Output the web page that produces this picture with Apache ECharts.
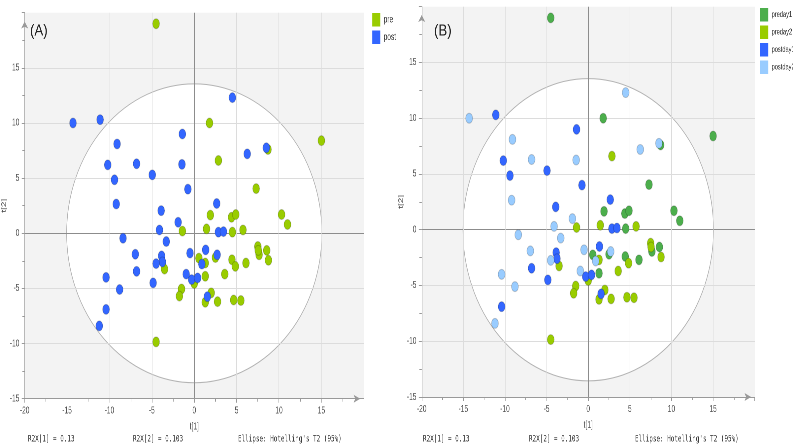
<!DOCTYPE html>
<html>
<head>
<meta charset="utf-8">
<script src="https://cdn.jsdelivr.net/npm/echarts@6/dist/echarts.min.js"></script>
<style>
html,body{margin:0;padding:0;background:#fff;overflow:hidden;width:793px;height:446px;}
#c{height:446px;transform-origin:0 0;}
</style>
</head>
<body>
<div id="c"></div>
<script>
// ---- data (t[1], t[2]) ----
const preday1 = [
  [-4.5, 19.0], [1.8, 10.0], [15.0, 8.4], [8.7, 7.6], [7.3, 4.05], [1.9, 1.65],
  [4.4, 1.45], [4.9, 1.7], [10.3, 1.7], [11.0, 0.8], [4.5, 0.1], [0.55, -2.25],
  [2.5, -2.2], [4.45, -2.4], [6.1, -2.7], [7.65, -1.95], [8.55, -1.55], [1.3, -3.9]
];
const preday2 = [
  [2.85, 6.6], [-1.4, 0.2], [1.45, 0.4], [5.75, 0.3], [7.5, -1.2], [7.55, -1.55],
  [8.75, -2.45], [1.3, -2.7], [4.85, -3.0], [3.6, -3.7], [-3.5, -3.25], [0.0, -4.55],
  [-1.5, -5.05], [-1.75, -5.7], [2.0, -5.4], [1.3, -6.25], [2.75, -6.2], [4.65, -6.05],
  [5.5, -6.1], [-4.5, -9.85]
];
const postday1 = [
  [-11.1, 10.3], [-1.4, 9.0], [-10.2, 6.2], [-4.95, 5.3], [-9.4, 4.85], [-0.75, 4.0],
  [2.65, 2.7], [-3.9, 2.05], [2.85, 0.1], [3.45, 0.15], [1.35, -1.5], [-3.85, -2.05],
  [-3.75, -2.6], [-6.8, -3.45], [-0.3, -4.2], [0.4, -4.05], [-4.85, -4.5], [1.55, -5.75],
  [-10.4, -6.9]
];
const postday2 = [
  [4.5, 12.3], [-14.3, 10.0], [-9.1, 8.1], [8.5, 7.75], [6.25, 7.2], [-6.8, 6.3],
  [-1.45, 6.25], [-9.2, 2.65], [-1.9, 1.0], [-8.4, -0.45], [-4.1, 0.3], [-3.3, -0.75],
  [-6.95, -1.9], [-0.5, -1.8], [2.7, -1.95], [0.9, -2.8], [-4.5, -2.75], [-0.95, -3.7],
  [-10.4, -4.0], [-8.8, -5.1], [-11.2, -8.4]
];
const pre = preday1.concat(preday2);
const post = postday1.concat(postday2);
const ellipseRadii = [15.05, 13.55];   // Hotelling's T2 (95%) ellipse half-axes
const xRange = [-20, 20];
const yRange = [-15, 20];
const tickStep = 5;
const panelLabels = ['(A)', '(B)'];
const footerTexts = ['R2X[1] = 0.13', 'R2X[2] = 0.103', "Ellipse: Hotelling's T2 (95%)"];
const legendA = ['pre', 'post'];
const legendB = ['preday1', 'preday2', 'postday1', 'postday2'];

// The original picture is horizontally squeezed; draw wide, then squeeze with CSS.
const SX = 0.66;
const W = 793 / SX;
const el = document.getElementById('c');
el.style.width = W + 'px';
el.style.transform = 'scaleX(' + SX + ')';
const L = function (x) { return x / SX; };

const COL = {pre: '#99cc00', post: '#3366ff', preday1: '#4cae4c', preday2: '#99cc00', postday1: '#3366ff', postday2: '#99ccff'};
const SANS = "'Liberation Sans', Arial, sans-serif";
const GRIDC = '#dcdcdc';

function lineColors(range) {
  const n = (range[1] - range[0]) / tickStep + 1, cols = [];
  for (let k = 0; k < n; k++) {
    const v = range[0] + k * tickStep;
    cols.push(v === 0 ? '#8c8c8c' : (v === range[0] || v === range[1]) ? 'rgba(0,0,0,0)' : GRIDC);
  }
  return cols;
}
function xAxisOf(i, arrowOff) {
  return {
    type: 'value', gridIndex: i, min: xRange[0], max: xRange[1], interval: tickStep, z: 1.5,
    name: 't[1]', nameLocation: 'middle', nameGap: 23,
    nameTextStyle: {fontSize: 10, color: '#555', fontFamily: SANS},
    axisLine: {onZero: false, show: true, symbol: ['none', 'arrow'], symbolSize: [6, 10], symbolOffset: [0, arrowOff], lineStyle: {color: '#999'}},
    axisTick: {show: true, length: 4, lineStyle: {color: '#999'}},
    minorTick: {show: true, splitNumber: 2, length: 3, lineStyle: {color: '#999'}},
    axisLabel: {showMaxLabel: false, fontSize: 10, color: '#555', fontFamily: SANS, margin: 7},
    splitLine: {show: true, lineStyle: {color: lineColors(xRange), width: 1}}
  };
}
function yAxisOf(i, arrowOff) {
  return {
    type: 'value', gridIndex: i, min: yRange[0], max: yRange[1], interval: tickStep, z: 1.5,
    name: 't[2]', nameLocation: 'middle', nameGap: 17, nameRotate: 90,
    nameTextStyle: {fontSize: 10, color: '#555', fontFamily: SANS},
    axisLine: {onZero: false, show: true, symbol: ['none', 'arrow'], symbolSize: [8, 7], symbolOffset: [0, arrowOff], lineStyle: {color: '#999'}},
    axisTick: {show: true, length: 4.5, lineStyle: {color: '#999'}},
    minorTick: {show: true, splitNumber: 2, length: 3.5, lineStyle: {color: '#999'}},
    axisLabel: {showMaxLabel: false, fontSize: 10, color: '#555', fontFamily: SANS, margin: 8},
    splitLine: {show: true, lineStyle: {color: lineColors(yRange), width: 1}}
  };
}
function ellipseSeries(i) {
  return {
    type: 'custom', xAxisIndex: i, yAxisIndex: i, z: 1, silent: true,
    data: [[0, 0]], encode: {x: 0, y: 1},
    renderItem: function (params, api) {
      const c = api.coord([0, 0]);
      const e = api.coord(ellipseRadii);
      const rx = e[0] - c[0], ry = c[1] - e[1];
      return {
        type: 'path',
        shape: {pathData: 'M0,50 A50,50 0 1,0 100,50 A50,50 0 1,0 0,50 Z', x: c[0] - rx, y: c[1] - ry, width: 2 * rx, height: 2 * ry, layout: 'cover'},
        style: {fill: '#ffffff', stroke: '#b4b4b4', lineWidth: 1}
      };
    }
  };
}
function scat(name, data, i) {
  return {
    name: name, type: 'scatter', xAxisIndex: i, yAxisIndex: i, z: 2,
    data: data, symbol: 'circle', symbolSize: [10.5, 10],
    itemStyle: {color: COL[name], opacity: 1, borderColor: 'rgba(0,0,0,0.18)', borderWidth: 1}
  };
}

const graphics = [];
const footX = [[28, 133, 238], [423, 529, 635]];
[0, 1].forEach(function (p) {
  graphics.push({type: 'text', x: L(p === 0 ? 30 : 434), y: 31, scaleX: 1.25, z: 10,
    style: {text: panelLabels[p], font: '16px ' + SANS, fill: '#222', textVerticalAlign: 'middle'}});
  footerTexts.forEach(function (t, k) {
    graphics.push({type: 'text', x: L(footX[p][k]), y: 439, z: 10,
      style: {text: t, font: '9px "DejaVu Sans Mono", "Liberation Mono", monospace', fill: '#333', textVerticalAlign: 'middle'}});
  });
});

const chart = echarts.init(el, null, {renderer: 'canvas', devicePixelRatio: 2});
chart.setOption({
  animation: false,
  backgroundColor: '#ffffff',
  grid: [
    {left: L(18.5), top: 12.7, width: L(345.3), height: 386, show: true, backgroundColor: '#f3f3f3', borderWidth: 0},
    {left: L(421.7), top: 6.7, width: L(333), height: 390.3, show: true, backgroundColor: '#f3f3f3', borderWidth: 0}
  ],
  xAxis: [xAxisOf(0, -5.5), xAxisOf(1, -5.5)],
  yAxis: [yAxisOf(0, -8.8), yAxisOf(1, -8.3)],
  legend: [
    {data: legendA, orient: 'vertical', left: L(369), top: 8, itemWidth: L(8), itemHeight: 13.5, itemGap: 4, icon: 'rect',
     itemStyle: {borderWidth: 0}, textStyle: {fontSize: 10, color: '#333', fontFamily: SANS}},
    {data: legendB, orient: 'vertical', left: L(757), top: 3, itemWidth: L(8), itemHeight: 13.5, itemGap: 4, icon: 'rect',
     itemStyle: {borderWidth: 0}, textStyle: {fontSize: 8.6, color: '#333', fontFamily: SANS}}
  ],
  graphic: graphics,
  series: [
    ellipseSeries(0), ellipseSeries(1),
    scat('pre', pre, 0), scat('post', post, 0),
    scat('preday1', preday1, 1), scat('preday2', preday2, 1),
    scat('postday1', postday1, 1), scat('postday2', postday2, 1)
  ]
});
</script>
</body>
</html>
